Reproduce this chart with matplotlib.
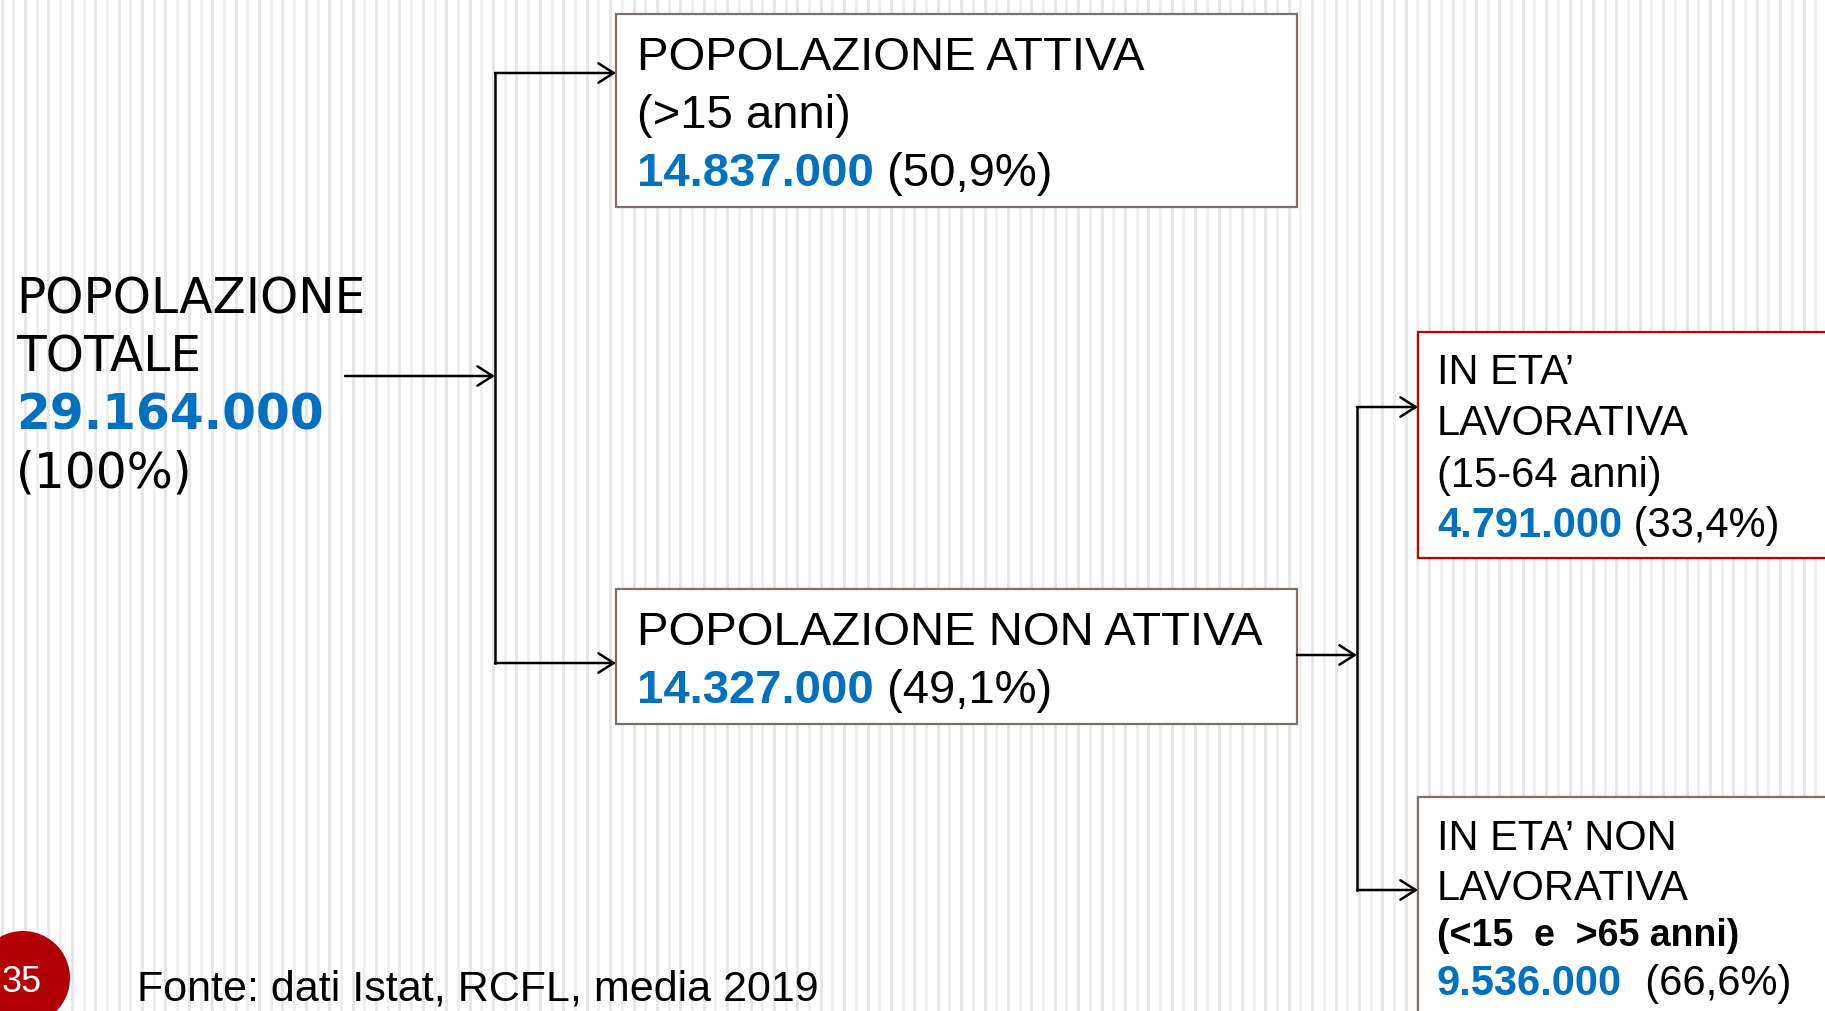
import matplotlib.pyplot as plt
from matplotlib.patches import Rectangle, Circle

# Diagram data
total_label = ["POPOLAZIONE", "TOTALE"]
total_value = "29.164.000"
total_pct = "(100%)"

attiva_label = ["POPOLAZIONE ATTIVA", "(>15 anni)"]
attiva_value = "14.837.000"
attiva_pct = "(50,9%)"

non_attiva_label = ["POPOLAZIONE NON ATTIVA"]
non_attiva_value = "14.327.000"
non_attiva_pct = "(49,1%)"

lavorativa_label = ["IN ETA\u2019", "LAVORATIVA", "(15-64 anni)"]
lavorativa_value = "4.791.000"
lavorativa_pct = "(33,4%)"

non_lavorativa_label = ["IN ETA\u2019 NON", "LAVORATIVA"]
non_lavorativa_age = "(<15  e  >65 anni)"
non_lavorativa_value = "9.536.000"
non_lavorativa_pct = "(66,6%)"

page_number = "35"
source_note = "Fonte: dati Istat, RCFL, media 2019"

BLUE = '#0070C0'
W, H = 1825, 1011

fig = plt.figure(figsize=(W / 100, H / 100), dpi=100)
ax = fig.add_axes([0, 0, 1, 1])
ax.set_xlim(0, W)
ax.set_ylim(H, 0)
ax.axis('off')

# striped background
k = 0
x = 1.7
while x < W:
    ax.axvline(x, color='#E5E5E5' if k % 2 == 0 else '#EEEEEE', lw=2.0, zorder=0)
    x += 11.7
    k += 1

renderer = fig.canvas.get_renderer()
inv = ax.transData.inverted()


def put_line(x, y, parts, size, family):
    # parts: list of (text, color, weight), drawn one after another
    for txt, color, weight in parts:
        t = ax.text(x, y, txt, fontsize=size, family=family, color=color,
                    fontweight=weight, va='baseline', ha='left', zorder=5)
        bb = t.get_window_extent(renderer)
        x = inv.transform((bb.x1, bb.y0))[0]


def box(x0, y0, x1, y1, edge):
    ax.add_patch(Rectangle((x0, y0), x1 - x0, y1 - y0, facecolor='white',
                           edgecolor=edge, lw=1.6, zorder=3))


def arrow(x0, y0, x1, y1):
    ax.annotate('', xy=(x1, y1), xytext=(x0, y0),
                arrowprops=dict(arrowstyle='->,head_length=0.55,head_width=0.35',
                                color='black', lw=1.8, shrinkA=0, shrinkB=0,
                                mutation_scale=20), zorder=4)


# left block (Verdana-like)
lf = 'DejaVu Sans'
put_line(16, 314, [(total_label[0], 'black', 'normal')], 35, lf)
put_line(16, 371, [(total_label[1], 'black', 'normal')], 35, lf)
put_line(16, 429, [(total_value, BLUE, 'bold')], 35, lf)
put_line(16, 487, [(total_pct, 'black', 'normal')], 35, lf)

# connectors
bf = 'Liberation Sans'
arrow(345, 376, 495, 376)
ax.plot([495, 495], [73, 663], color='black', lw=1.8, zorder=4)
arrow(495, 73, 616, 73)
arrow(495, 663, 616, 663)

arrow(1297, 655, 1357, 655)
ax.plot([1357, 1357], [407, 890], color='black', lw=1.8, zorder=4)
arrow(1357, 407, 1418, 407)
arrow(1357, 890, 1418, 890)

# box 1
box(616, 14, 1297, 207, '#7F6F67')
put_line(637, 70, [(attiva_label[0], 'black', 'normal')], 34, bf)
put_line(637, 128, [(attiva_label[1], 'black', 'normal')], 34, bf)
put_line(637, 186, [(attiva_value, BLUE, 'bold'), (' ' + attiva_pct, 'black', 'normal')], 34, bf)

# box 2
box(616, 589, 1297, 724, '#7F6F67')
put_line(637, 645, [(non_attiva_label[0], 'black', 'normal')], 34, bf)
put_line(637, 703, [(non_attiva_value, BLUE, 'bold'), (' ' + non_attiva_pct, 'black', 'normal')], 34, bf)

# box 3
box(1418, 332, 1840, 558, '#C00000')
put_line(1437, 384, [(lavorativa_label[0], 'black', 'normal')], 30, bf)
put_line(1437, 435, [(lavorativa_label[1], 'black', 'normal')], 30, bf)
put_line(1437, 487, [(lavorativa_label[2], 'black', 'normal')], 30, bf)
put_line(1437, 537, [(lavorativa_value, BLUE, 'bold'), (' ' + lavorativa_pct, 'black', 'normal')], 30, bf)

# box 4
box(1418, 797, 1840, 1030, '#7F6F67')
put_line(1437, 850, [(non_lavorativa_label[0], 'black', 'normal')], 30, bf)
put_line(1437, 900, [(non_lavorativa_label[1], 'black', 'normal')], 30, bf)
put_line(1437, 946, [(non_lavorativa_age, 'black', 'bold')], 27, bf)
put_line(1437, 995, [(non_lavorativa_value, BLUE, 'bold'), ('  ' + non_lavorativa_pct, 'black', 'normal')], 30, bf)

# page number and source
ax.add_patch(Circle((23, 978), 47, facecolor='#B00004', edgecolor='none', zorder=5))
ax.text(22, 992, page_number, fontsize=26, family=bf, color='white',
        ha='center', va='baseline', zorder=6)
put_line(137, 1001, [(source_note, 'black', 'normal')], 31, bf)

fig.savefig('out.png', dpi=100)
